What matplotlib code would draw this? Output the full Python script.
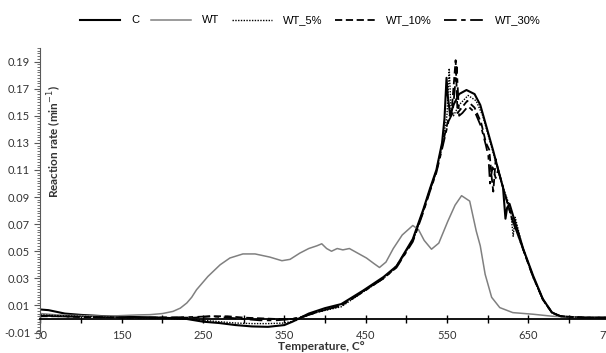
import numpy as np
import matplotlib.pyplot as plt
from matplotlib.ticker import MultipleLocator, FixedLocator

# Data (temperature in C, reaction rate in 1/min)
t_c = [50, 60, 80, 100, 130, 160, 200, 230, 250, 270, 290, 310, 330, 350, 360, 370,
       380, 390, 400, 420, 447, 472, 488, 508, 521, 529, 537, 544, 547, 549.5, 551,
       554, 558, 565, 574, 584, 591, 599, 607, 614, 619, 622, 624, 627, 632, 644,
       656, 668, 679, 687, 700, 720, 750]
v_c = [0.007, 0.0065, 0.004, 0.003, 0.002, 0.0015, 0.001, 0.0, -0.002, -0.003,
       -0.0045, -0.0055, -0.0058, -0.0045, -0.002, 0.001, 0.004, 0.006, 0.008,
       0.011, 0.021, 0.031, 0.039, 0.059, 0.081, 0.096, 0.110, 0.130, 0.148, 0.178,
       0.165, 0.150, 0.158, 0.166, 0.169, 0.166, 0.158, 0.141, 0.124, 0.108, 0.097,
       0.074, 0.082, 0.085, 0.075, 0.0515, 0.032, 0.0147, 0.005, 0.0024, 0.0012,
       0.001, 0.001]

t_wt = [50, 70, 100, 130, 150, 170, 185, 200, 213, 222, 230, 236, 242, 256, 271,
        283, 299, 314, 332, 347, 357, 369, 380, 390, 396, 402, 408, 415, 422, 430,
        439, 451, 460, 467, 475, 484, 495, 508, 515, 522, 531, 540, 551, 560, 568,
        578, 586, 591, 597, 605, 615, 631, 656, 680, 720, 750]
v_wt = [0.004, 0.003, 0.0025, 0.002, 0.0025, 0.003, 0.0032, 0.004, 0.0056, 0.008,
        0.0118, 0.016, 0.0216, 0.0314, 0.040, 0.045, 0.048, 0.048, 0.0457, 0.043,
        0.044, 0.0486, 0.052, 0.054, 0.0555, 0.052, 0.050, 0.052, 0.051, 0.052,
        0.049, 0.045, 0.041, 0.038, 0.042, 0.052, 0.062, 0.069, 0.066, 0.058,
        0.0515, 0.056, 0.072, 0.084, 0.091, 0.087, 0.065, 0.054, 0.033, 0.016,
        0.0084, 0.0047, 0.0035, 0.002, 0.001, 0.001]

t_5 = [50, 70, 100, 150, 200, 230, 250, 270, 290, 310, 330, 350, 365, 375, 390,
       420, 447, 472, 488, 508, 521, 529, 537, 545, 550, 552.8, 555, 558, 565, 576,
       586, 594, 602, 610, 618, 625, 628, 631.5, 634, 644, 656, 668, 679, 690, 720,
       750]
v_5 = [0.003, 0.0025, 0.002, 0.001, 0.0005, 0.0, -0.001, -0.002, -0.003, -0.0034,
       -0.0034, -0.003, -0.001, 0.002, 0.005, 0.009, 0.020, 0.030, 0.038, 0.058,
       0.080, 0.095, 0.109, 0.132, 0.150, 0.185, 0.155, 0.150, 0.158, 0.165, 0.161,
       0.150, 0.133, 0.116, 0.099, 0.087, 0.082, 0.061, 0.075, 0.0505, 0.031, 0.014,
       0.0045, 0.002, 0.001, 0.001]

t_10 = [50, 70, 100, 150, 200, 240, 260, 280, 300, 320, 340, 360, 375, 390, 420,
        447, 472, 488, 508, 521, 529, 537, 545, 552, 556, 560.7, 563, 567, 575, 584,
        592, 598, 602, 605, 607, 610, 613, 620, 630, 644, 656, 668, 679, 690, 720,
        750]
v_10 = [0.002, 0.002, 0.0015, 0.001, 0.001, 0.001, 0.002, 0.002, 0.001, 0.0005,
        0.0, 0.0, 0.002, 0.005, 0.010, 0.0205, 0.030, 0.039, 0.058, 0.080, 0.095,
        0.109, 0.130, 0.148, 0.155, 0.191, 0.152, 0.155, 0.161, 0.156, 0.145, 0.130,
        0.125, 0.105, 0.094, 0.118, 0.110, 0.095, 0.074, 0.051, 0.031, 0.0145,
        0.0048, 0.002, 0.001, 0.001]

t_30 = [50, 70, 100, 150, 200, 240, 260, 280, 300, 320, 340, 360, 375, 390, 420,
        447, 472, 488, 508, 521, 529, 537, 545, 552, 557, 562, 565, 569, 576, 585,
        592, 598, 601, 603, 606, 610, 613, 620, 630, 644, 656, 668, 679, 690, 720,
        750]
v_30 = [0.0025, 0.002, 0.0015, 0.001, 0.001, 0.0015, 0.002, 0.001, 0.0, -0.001,
        -0.001, 0.0, 0.002, 0.005, 0.010, 0.020, 0.030, 0.038, 0.057, 0.079, 0.094,
        0.108, 0.128, 0.146, 0.152, 0.186, 0.150, 0.152, 0.157, 0.152, 0.142, 0.128,
        0.120, 0.100, 0.112, 0.104, 0.110, 0.095, 0.074, 0.051, 0.031, 0.0145,
        0.0048, 0.002, 0.001, 0.001]

fig = plt.figure(figsize=(6.06, 3.53), dpi=100)
ax = fig.add_axes([0.0668, 0.058, 0.939, 0.806])

ax.plot(t_c, v_c, color='black', lw=1.5, label='C')
ax.plot(t_wt, v_wt, color='#808080', lw=1.1, label='WT')
ax.plot(t_5, v_5, color='black', lw=1.0, ls=(0, (1, 1)), label='WT_5%')
ax.plot(t_10, v_10, color='black', lw=1.3, ls=(0, (4, 2)), label='WT_10%')
ax.plot(t_30, v_30, color='black', lw=1.3, ls=(0, (7, 2.5, 2.5, 2.5)), label='WT_30%')

ax.set_xlim(50, 750)
ax.set_ylim(-0.01, 0.20)

for s in ['top', 'right']:
    ax.spines[s].set_visible(False)
ax.spines['bottom'].set_position(('data', 0))
ax.spines['bottom'].set_linewidth(1.3)
ax.spines['left'].set_color('#595959')

ax.xaxis.set_major_locator(FixedLocator(np.arange(50, 751, 100)))
ax.xaxis.set_minor_locator(FixedLocator(np.arange(100, 751, 100)))
ax.tick_params(axis='x', which='both', direction='inout', length=6, width=1,
               pad=5, labelsize=8, labelcolor='#333333')
ax.set_yticks(np.arange(-0.01, 0.195, 0.02))
ax.set_yticklabels(['%.2f' % v for v in np.arange(-0.01, 0.195, 0.02)])
ax.yaxis.set_minor_locator(MultipleLocator(0.002))
ax.tick_params(axis='y', which='major', direction='out', length=4, labelsize=8,
               labelcolor='#333333', color='#595959')
ax.tick_params(axis='y', which='minor', direction='out', length=2, color='#595959')

for lab in ax.get_xticklabels() + ax.get_yticklabels():
    lab.set_family('Lato')

fig.text(0.091, 0.60, 'Reaction rate (min$^{-1}$)', rotation=90, ha='center',
         va='center', fontsize=8.5, fontweight='bold', family='Lato', color='#333333')
fig.text(0.53, 0.004, 'Temperature, C°', ha='center', va='bottom', fontsize=8.5,
         fontweight='bold', family='Lato', color='#333333')

fig.legend(loc='center', bbox_to_anchor=(0.512, 0.942), ncol=5, frameon=False,
           handlelength=3.6, columnspacing=1.1, handletextpad=1.0,
           prop={'family': 'Liberation Sans', 'size': 8})

fig.savefig('out.png', dpi=100)
